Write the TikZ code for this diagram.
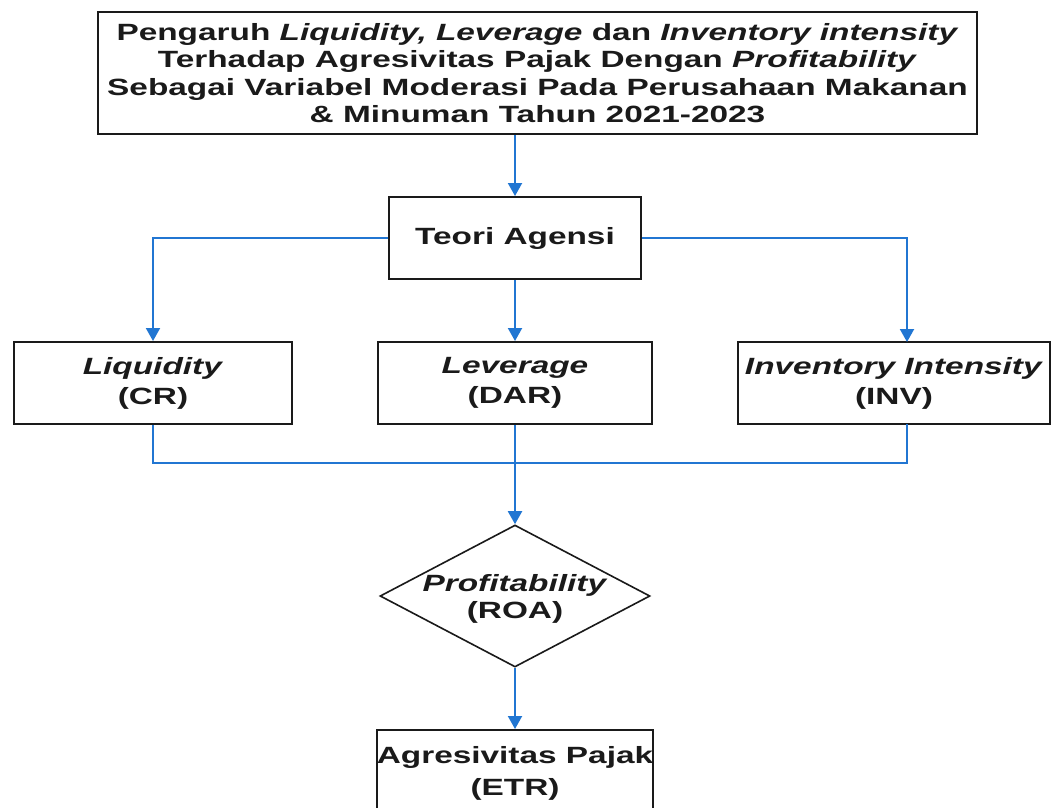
\documentclass[tikz,border=0pt]{standalone}
\usepackage{fontspec}
\setmainfont{Liberation Sans}[FakeStretch=1.42]
\usetikzlibrary{arrows.meta,shapes.geometric}
\definecolor{lineblue}{HTML}{2176D2}
\definecolor{inkc}{HTML}{1A1A1A}
\begin{document}
\begin{tikzpicture}[x=1pt,y=-1pt,
  box/.style={draw=inkc,line width=2pt,fill=white,inner sep=0pt,align=center,text=inkc,font=\bfseries\fontsize{23.5}{30}\selectfont},
  diam/.style={draw=inkc,line width=1.6pt,fill=white,diamond,inner sep=0pt,aspect=1.9,minimum width=270pt,minimum height=142pt},
  txt/.style={inner sep=0pt,align=center,text=inkc,font=\bfseries\fontsize{23.5}{27}\selectfont},
  conn/.style={draw=lineblue,line width=2pt},
  arr/.style={conn,-{Triangle[width=14pt,length=13pt]}}]
\useasboundingbox (0,0) rectangle (1059,807);
\clip (0,0) rectangle (1059,807);
\fill[white] (0,0) rectangle (1059,807);

\node[box,minimum width=879pt,minimum height=122pt,font=\bfseries\fontsize{23.5}{27.5}\selectfont] (top) at (537.5,73)
  {Pengaruh \textit{Liquidity, Leverage} dan \textit{Inventory intensity}\\
   Terhadap Agresivitas Pajak Dengan \textit{Profitability}\\
   Sebagai Variabel Moderasi Pada Perusahaan Makanan\\
   \& Minuman Tahun 2021-2023};
\node[box,minimum width=252pt,minimum height=82pt] (teori) at (515,238) {Teori Agensi};
\node[box,minimum width=278pt,minimum height=82pt] (liq) at (153,383) {\textit{Liquidity}\\(CR)};
\node[box,minimum width=274pt,minimum height=82pt] (lev) at (515,383) {\textit{Leverage}\\(DAR)};
\node[box,minimum width=312pt,minimum height=82pt] (inv) at (894,383) {\textit{Inventory Intensity}\\(INV)};
\node[diam] (dia) at (515,596) {};
\node[txt] (diatext) at (515,599) {\textit{Profitability}\\(ROA)};
\node[box,minimum width=274pt,minimum height=86pt,font=\bfseries\fontsize{23.5}{32}\selectfont] (etr) at (515,773) {Agresivitas Pajak\\(ETR)};

\coordinate (invtop) at (907,342);
\coordinate (invbot) at (907,424);
\coordinate (join) at (515,463);

\draw[arr] (top.south -| teori.north) -- (teori.north);
\draw[arr] (teori.west) -| (liq.north);
\draw[arr] (teori.east) -| (invtop);
\draw[arr] (teori.south) -- (lev.north);
\draw[conn] (liq.south) |- (join) -| (invbot);
\draw[arr] (lev.south) -- (dia.north);
\draw[arr] (dia.south) -- (etr.north);
\end{tikzpicture}
\end{document}
